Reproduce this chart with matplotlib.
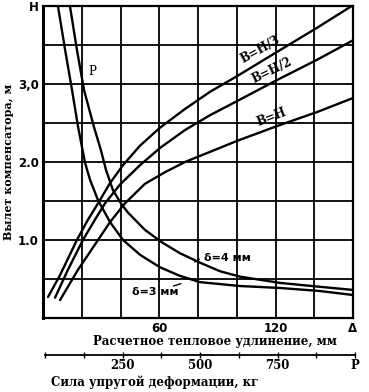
import matplotlib
matplotlib.use("Agg")
import matplotlib.pyplot as plt

# ---- data ----
# rising curves: H (m) vs thermal elongation (mm)
x_h3 = [2.6, 8.8, 17.5, 23.2, 28.4, 34.6, 41.3, 50.1, 60.4, 73.3, 86.2, 100.1, 120.7, 141.4, 160]
y_h3 = [0.27, 0.55, 1.00, 1.26, 1.47, 1.73, 1.96, 2.21, 2.44, 2.68, 2.90, 3.10, 3.41, 3.72, 4.01]
x_h2 = [6.2, 12.9, 20.6, 26.8, 32.0, 39.7, 50.1, 60.4, 73.3, 86.2, 100.1, 120.7, 141.4, 160]
y_h2 = [0.26, 0.62, 1.00, 1.26, 1.47, 1.71, 1.96, 2.18, 2.41, 2.60, 2.78, 3.05, 3.31, 3.56]
x_h1 = [8.8, 18.1, 28.4, 34.6, 42.3, 52.6, 63.0, 73.3, 86.2, 100.1, 120.7, 141.4, 160]
y_h1 = [0.23, 0.62, 1.00, 1.23, 1.47, 1.72, 1.87, 2.00, 2.13, 2.27, 2.46, 2.64, 2.82]
# falling curves: wall thickness 4 mm and 3 mm
x_d4 = [13.9, 17.5, 21.2, 26.3, 29.9, 32.5, 36.1, 40.2, 43.9, 52.6, 61.4, 70.7, 81.0, 91.3,
        101.7, 122.3, 142.9, 160]
y_d4 = [4.00, 3.44, 2.92, 2.45, 2.15, 1.90, 1.64, 1.47, 1.35, 1.13, 0.97, 0.83, 0.71, 0.60,
        0.53, 0.45, 0.40, 0.36]
x_d3 = [7.7, 11.4, 15.0, 18.1, 21.7, 24.3, 28.4, 34.6, 41.3, 50.1, 60.4, 70.7, 81.0, 101.7,
        122.3, 142.9, 160]
y_d3 = [4.00, 3.44, 2.92, 2.45, 1.99, 1.77, 1.51, 1.23, 1.00, 0.81, 0.65, 0.54, 0.46, 0.41,
        0.385, 0.346, 0.295]

y_ticks = [1.0, 2.0, 3.0, 4.0]
y_ticklabels = ["1.0", "2.0", "3,0", "H"]
x_ticks = [60, 120, 160]
x_ticklabels = ["60", "120", "Δ"]
p_ticks = [125 * i for i in range(9)]
p_labels = ["", "", "250", "", "500", "", "750", "", "P"]

W, H = 369, 392
fig = plt.figure(figsize=(W / 100, H / 100), dpi=100)
fig.patch.set_facecolor("white")

L, R, B, T = 43, 353, 318, 6
ax = fig.add_axes([L / W, 1 - B / H, (R - L) / W, (B - T) / H])
ax.set_xlim(0, 160)
ax.set_ylim(0, 4.0)

for v in range(20, 160, 20):
    ax.axvline(v, color="black", lw=1.3, zorder=1)
for v in [0.5 * i for i in range(1, 8)]:
    ax.axhline(v, color="black", lw=1.3, zorder=1)

for s in ax.spines.values():
    s.set_linewidth(1.6)
ax.spines["left"].set_linewidth(2.2)

lw = 1.7
for xs, ys in [(x_h3, y_h3), (x_h2, y_h2), (x_h1, y_h1), (x_d4, y_d4), (x_d3, y_d3)]:
    ax.plot(xs, ys, color="black", lw=lw, zorder=3, solid_capstyle="round",
            solid_joinstyle="round")

fp = dict(family="DejaVu Serif", color="black")
ax.text(112, 3.44, "В=Н/3", rotation=29, fontsize=8.5, ha="center", va="center",
        fontweight="bold", **fp)
ax.text(118, 3.18, "В=Н/2", rotation=26, fontsize=8.5, ha="center", va="center",
        fontweight="bold", **fp)
ax.text(118, 2.57, "В=Н", rotation=21, fontsize=8.5, ha="center", va="center",
        fontweight="bold", **fp)
ax.text(25.5, 3.16, "P", fontsize=8.5, ha="center", va="center", **fp)
ax.text(95, 0.77, "δ=4 мм", fontsize=8, ha="center", va="center", fontweight="bold",
        family="DejaVu Sans")
ax.annotate("", xy=(77, 0.70), xytext=(82, 0.77),
            arrowprops=dict(arrowstyle="-", lw=1.0, color="black"))
ax.text(58, 0.33, "δ=3 мм", fontsize=8, ha="center", va="center", fontweight="bold",
        family="DejaVu Sans")
ax.annotate("", xy=(72.5, 0.45), xytext=(66, 0.40),
            arrowprops=dict(arrowstyle="-", lw=1.0, color="black"))

ax.set_yticks(y_ticks)
ax.set_yticklabels(y_ticklabels, fontsize=8.5, fontweight="bold", family="DejaVu Sans")
ax.set_xticks(x_ticks)
ax.set_xticklabels(x_ticklabels, fontsize=8.5, fontweight="bold", family="DejaVu Sans")
ax.tick_params(length=0, pad=3)
ax.set_ylabel("Вылет компенсатора, м", fontsize=8, fontweight="bold",
              family="DejaVu Serif", labelpad=3)

fig.text(215 / W, 1 - 342 / H, "Расчетное тепловое удлинение, мм", fontsize=8.5,
         family="DejaVu Serif", ha="center", va="center", fontweight="bold")

# secondary scale: elastic deformation force
pax = fig.add_axes([45 / W, 1 - 355 / H, (355 - 45) / W, 0.0001])
pax.set_xlim(0, 1000)
pax.set_ylim(0, 1)
for k in ["left", "right", "top"]:
    pax.spines[k].set_visible(False)
pax.spines["bottom"].set_linewidth(1.3)
pax.set_yticks([])
pax.set_xticks(p_ticks)
pax.set_xticklabels(p_labels, fontsize=8.5, fontweight="bold", family="DejaVu Serif")
pax.tick_params(axis="x", direction="inout", length=4, width=1.0, pad=1)
pax.patch.set_visible(False)

fig.text(155 / W, 1 - 382 / H, "Сила упругой деформации, кг", fontsize=8.5,
         family="DejaVu Serif", ha="center", va="center", fontweight="bold")

fig.savefig("out.png", dpi=100, facecolor="white")
